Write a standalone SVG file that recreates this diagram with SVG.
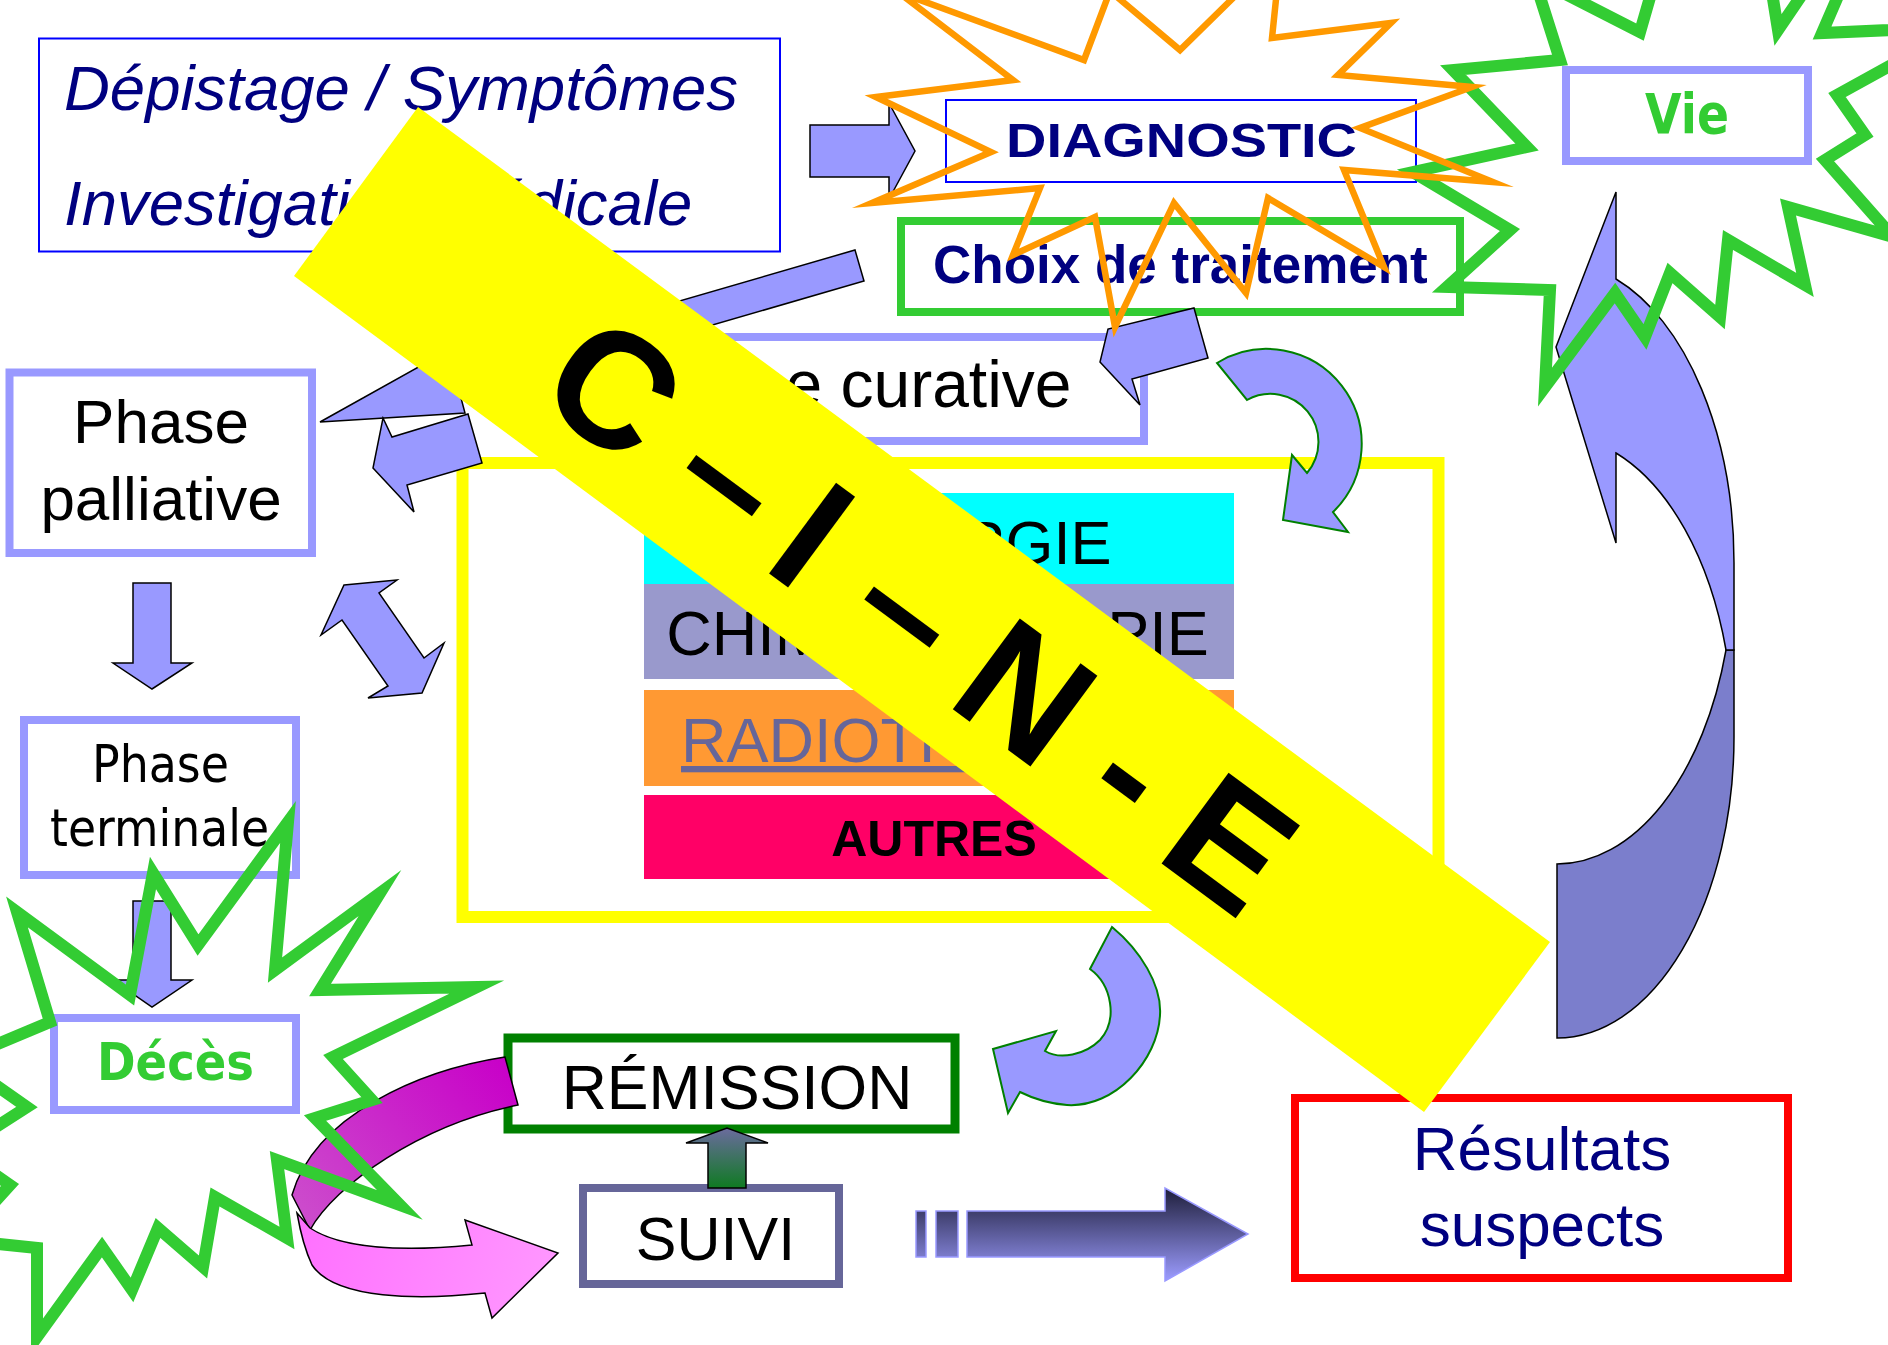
<svg xmlns="http://www.w3.org/2000/svg" width="1888" height="1345" viewBox="0 0 1888 1345">
<defs>
<style>
.sans{font-family:"Liberation Sans",Arial,sans-serif}
.tah{font-family:"DejaVu Sans",Verdana,sans-serif}
.box{fill:#fff}
.arr{fill:#9999FF;stroke:#000;stroke-width:1.5;stroke-linejoin:miter}
.carr{fill:#9999FF;stroke:#008000;stroke-width:2}
.star{fill:none;stroke-linejoin:miter;stroke-miterlimit:10}
</style>
<linearGradient id="gUp" x1="0" y1="1128" x2="0" y2="1188" gradientUnits="userSpaceOnUse"><stop offset="0" stop-color="#6B6B9E"/><stop offset="1" stop-color="#0F7A22"/></linearGradient>
<linearGradient id="gRes" x1="0" y1="1188" x2="0" y2="1281" gradientUnits="userSpaceOnUse"><stop offset="0" stop-color="#1E1E3A"/><stop offset="1" stop-color="#9C9CFF"/></linearGradient>
<linearGradient id="gMag" x1="505" y1="1057" x2="300" y2="1220" gradientUnits="userSpaceOnUse"><stop offset="0" stop-color="#C800C8"/><stop offset="1" stop-color="#CC4DCC"/></linearGradient>
<linearGradient id="gPink" x1="300" y1="1220" x2="560" y2="1300" gradientUnits="userSpaceOnUse"><stop offset="0" stop-color="#FF70FF"/><stop offset="1" stop-color="#FF99FF"/></linearGradient>
</defs>
<rect width="1888" height="1345" fill="#fff"/>

<g id="depistage">
<rect x="39" y="38.5" width="741" height="213" class="box" stroke="#0000FF" stroke-width="2"/>
<text class="sans" x="64" y="110" font-size="63.5" font-style="italic" fill="#000080">Dépistage / Symptômes</text>
<text class="sans" x="64" y="225" font-size="63.5" font-style="italic" fill="#000080">Investigation médicale</text>
</g>

<g id="curved-big-arrow">
<path d="M1557,864 A177,301 0 0 0 1726,650 L1734,650 L1734,737 A177,301 0 0 1 1557,1038 Z" fill="#7B7ECC" stroke="#000" stroke-width="1.5"/>
<path d="M1616,192 L1556,347 L1616,543 L1616,453 A177,301 0 0 1 1726,650 L1734,650 L1734,563 A177,301 0 0 0 1616,279 Z" fill="#9999FF" stroke="#000" stroke-width="1.5"/>
</g>

<g id="diagnostic">
<rect x="946" y="100" width="470" height="82" class="box" stroke="#0000FF" stroke-width="2"/>
<text class="sans" x="1181.5" y="157" text-anchor="middle" font-size="49" font-weight="bold" fill="#000080" textLength="351" lengthAdjust="spacingAndGlyphs">DIAGNOSTIC</text>
</g>

<g id="choix">
<rect x="901" y="221" width="559" height="91" class="box" stroke="#33CC33" stroke-width="8"/>
<text class="sans" x="933" y="283" font-size="53" font-weight="bold" fill="#000080">Choix de traitement</text>
</g>

<g id="vie">
<rect x="1566" y="70" width="242" height="91" class="box" stroke="#9999FF" stroke-width="8"/>
<text class="tah" x="1687" y="133" text-anchor="middle" font-size="55" font-weight="bold" fill="#33CC33" textLength="84" lengthAdjust="spacingAndGlyphs">Vie</text>
</g>

<g id="curative">
<rect x="545" y="337" width="599" height="104" class="box" stroke="#9999FF" stroke-width="8"/>
<text class="sans" x="635" y="407" font-size="66" fill="#000">Phase curative</text>
</g>

<g id="palliative">
<rect x="9.5" y="372.5" width="302.5" height="180.5" class="box" stroke="#9999FF" stroke-width="8"/>
<text class="sans" x="161" y="443" text-anchor="middle" font-size="62" fill="#000">Phase</text>
<text class="sans" x="161" y="520" text-anchor="middle" font-size="62" fill="#000">palliative</text>
</g>

<g id="terminale">
<rect x="24" y="720" width="272" height="155" class="box" stroke="#9999FF" stroke-width="8"/>
<text class="tah" x="160.5" y="782" text-anchor="middle" font-size="52" fill="#000" textLength="137" lengthAdjust="spacingAndGlyphs">Phase</text>
<text class="tah" x="159.5" y="846" text-anchor="middle" font-size="52" fill="#000" textLength="219" lengthAdjust="spacingAndGlyphs">terminale</text>
</g>

<g id="deces">
<rect x="54" y="1018" width="242" height="92" class="box" stroke="#9999FF" stroke-width="8"/>
<text class="tah" x="175.5" y="1080" text-anchor="middle" font-size="51" font-weight="bold" fill="#33CC33" textLength="157" lengthAdjust="spacingAndGlyphs">Décès</text>
</g>

<g id="remission">
<rect x="508" y="1038" width="447" height="91" class="box" stroke="#008000" stroke-width="9"/>
<text class="sans" x="737" y="1109" text-anchor="middle" font-size="62.5" fill="#000">RÉMISSION</text>
</g>

<g id="suivi">
<rect x="583" y="1188" width="256" height="96" class="box" stroke="#666699" stroke-width="8"/>
<text class="sans" x="715.5" y="1260" text-anchor="middle" font-size="61" fill="#000">SUIVI</text>
</g>

<g id="resultats">
<rect x="1295" y="1098" width="493" height="180" class="box" stroke="#FF0000" stroke-width="8"/>
<text class="sans" x="1542" y="1170" text-anchor="middle" font-size="62" fill="#000080">Résultats</text>
<text class="sans" x="1542" y="1246" text-anchor="middle" font-size="62" fill="#000080">suspects</text>
</g>

<g id="traitements">
<rect x="462.5" y="463" width="976" height="454" class="box" stroke="#FFFF00" stroke-width="12"/>
<rect x="644" y="493" width="590" height="91" fill="#00FFFF"/>
<rect x="644" y="584" width="590" height="95" fill="#9999CC"/>
<rect x="644" y="690" width="590" height="96" fill="#FF9933"/>
<rect x="644" y="795" width="590" height="84" fill="#FF0066"/>
<text class="sans" x="939" y="564" text-anchor="middle" font-size="61.5" fill="#000">CHIRURGIE</text>
<text class="sans" x="937.5" y="655" text-anchor="middle" font-size="63" fill="#000">CHIMIOTHÉRAPIE</text>
<text class="sans" x="681" y="762" font-size="63" fill="#666699" text-decoration="underline">RADIOTHÉRAPIE</text>
<text class="sans" x="934" y="856" text-anchor="middle" font-size="50" font-weight="bold" fill="#000">AUTRES</text>
</g>

<g id="connectors">
<polygon class="arr" points="810,125 889,125 889,103 915,151 889,199 889,177 810,177"/>
<polygon class="arr" points="320,422 447,351 452,367 855,250 864,281 461,398 465,413"/>
<polygon class="arr" points="383,418 392,437 468,414 482,463 407,485 414,512 373,468"/>
<polygon class="arr" points="1194,308 1208,358 1132,379 1140,405 1100,362 1108,329"/>
<polygon class="arr" points="344,585 397,580 379,593 424,658 444,643 422,693 368,698 388,686 342,620 321,635"/>
<polygon class="arr" points="133,583 171,583 171,663 192,663 152,689 113,663 133,663"/>
<polygon class="arr" points="133,901 171,901 171,980 192,980 152,1007 113,980 133,980"/>
<path class="carr" d="M1217,363 A95,95 0 0 1 1333,512 L1348,532 L1283,520 L1292,455 L1307,473 A48,48 0 0 0 1247,400 Z"/>
<path class="carr" d="M1112,927 C1140,950 1162,985 1160,1015 C1158,1060 1115,1108 1067,1105 Q1042,1103 1020,1092 L1008,1113 L993,1049 L1056,1031 L1045,1051 C1060,1060 1085,1055 1100,1040 C1118,1020 1112,985 1090,969 Z"/>
<path d="M505,1057 C420,1070 315,1115 292,1195 L310,1230 C335,1185 420,1125 518,1105 Z" fill="url(#gMag)" stroke="#000" stroke-width="1.5"/>
<path d="M297,1213 L310,1228 C340,1248 400,1252 472,1245 L465,1220 L558,1253 L492,1318 L485,1293 C420,1300 335,1300 312,1265 C305,1250 300,1230 297,1213 Z" fill="url(#gPink)" stroke="#000" stroke-width="1.5"/>
<polygon points="708,1188 746,1188 746,1143 768,1143 727,1128 686,1143 708,1143" fill="url(#gUp)" stroke="#000" stroke-width="1.5"/>
<rect x="916" y="1211" width="10" height="46" fill="url(#gRes)" stroke="#9999FF" stroke-width="1.5"/>
<rect x="936" y="1211" width="22" height="46" fill="url(#gRes)" stroke="#9999FF" stroke-width="1.5"/>
<polygon points="967,1211 1165,1211 1165,1188 1248,1234 1165,1281 1165,1257 967,1257" fill="url(#gRes)" stroke="#9999FF" stroke-width="1.5"/>
</g>

<g id="star-vie">
<polygon class="star" stroke="#33CC33" stroke-width="12" points="1413,172 1527,147 1453,70 1560,60 1534,-22 1640,32 1655,-20 1770,-20 1778,30 1812,-20 1845,-20 1822,33 1960,27 1837,95 1865,135 1825,160 1893,237 1788,207 1805,285 1728,240 1720,317 1670,273 1645,337 1615,293 1545,387 1550,290 1447,287 1510,230"/>
</g>

<g id="star-deces">
<polygon class="star" stroke="#33CC33" stroke-width="12" points="288,822 275,970 380,893 320,990 477,987 333,1057 372,1100 315,1118 400,1205 277,1160 287,1238 215,1197 203,1267 158,1228 132,1290 102,1247 37,1337 37,1248 -40,1240 10,1185 -40,1150 27,1107 -40,1060 50,1022 17,912 130,995 153,873 198,945"/>
</g>

<g id="star-diagnostic">
<polygon class="star" stroke="#FF9900" stroke-width="6.5" points="876,97 1013,80 898,-8 1084,60 1110,-9 1180,50 1281,-49 1272,38 1391,23 1338,75 1472,87 1360,128 1493,182 1344,170 1384,267 1268,198 1246,293 1174,203 1115,327 1095,217 1013,255 1040,188 872,203 991,152"/>
</g>

<g id="banner">
<polygon points="418,107 1550,942 1424,1112 294,276" fill="#FFFF00"/>
<text class="sans" transform="translate(356,191.5) rotate(36.45)" font-size="164" font-weight="bold" fill="#000" text-anchor="middle"><tspan x="324" y="62">C</tspan><tspan x="471" y="62">–</tspan><tspan x="571" y="62">I</tspan><tspan x="692" y="62">–</tspan><tspan x="836" y="62">N</tspan><tspan x="969" y="62">-</tspan><tspan x="1091" y="62">E</tspan></text>
</g>
</svg>
